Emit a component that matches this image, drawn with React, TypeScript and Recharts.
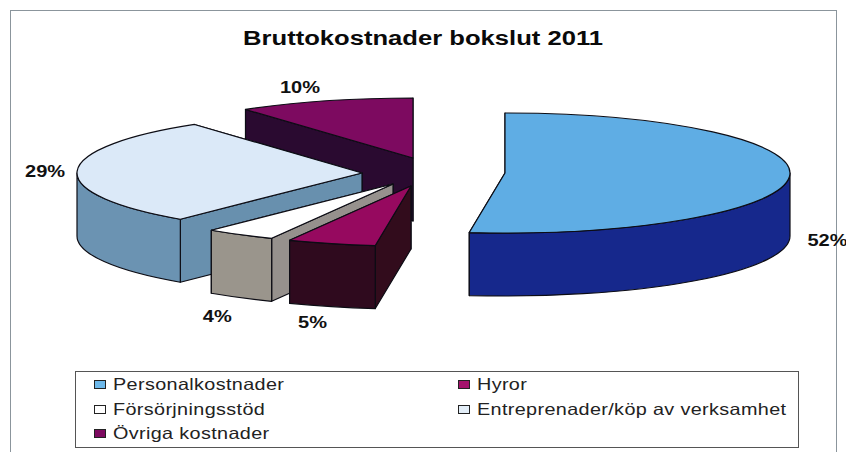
import { PieChart, Pie } from "recharts";

const categories = [
  "Personalkostnader",
  "Hyror",
  "Försörjningsstöd",
  "Entreprenader/köp av verksamhet",
  "Övriga kostnader",
];
const shares = [52, 5, 4, 29, 10];

const topColors = ["#5fade4", "#96095f", "#ffffff", "#dbe9f8", "#7d0a60"];
const wallColors = ["#16288c", "#2f0a1e", "#9a958c", "#6b93b2", "#2a0a30"];
const cutColors = ["#16288c", "#320c1c", "#96918d", "#6890ae", "#2a0a30"];
const legendColors = ["#6db8ea", "#a3126b", "#ffffff", "#e3eef8", "#7d0a60"];

// exploded slices: each one gets its own centre, painted back to front
const centres: [number, number][] = [
  [505, 173],
  [411, 186],
  [393, 184],
  [362, 173],
  [413, 158],
];
const paintOrder = [4, 0, 3, 2, 1];
const labelNudge: [number, number][] = [
  [38, 64],
  [-19, 79],
  [-23, 82],
  [-32, 1],
  [-25, -13],
];

const RX = 285;
const RY = 60;
const DEPTH = 63;
const RAD = Math.PI / 180;

const pt = (cx: number, cy: number, a: number, dy = 0) =>
  `${cx + RX * Math.cos(a * RAD)} ${cy - RY * Math.sin(a * RAD) + dy}`;

function Slice(props: any) {
  const { cx, cy, startAngle, endAngle, index } = props;
  const stroke = { stroke: "#0c0c14", strokeWidth: 1.2, strokeLinejoin: "round" as const };
  const large = startAngle - endAngle > 180 ? 1 : 0;

  const top = `M${cx} ${cy} L${pt(cx, cy, startAngle)} A${RX} ${RY} 0 ${large} 1 ${pt(cx, cy, endAngle)} Z`;

  // cut faces, the one further back first
  const cuts = [startAngle, endAngle]
    .sort((a, b) => Math.sin(b * RAD) - Math.sin(a * RAD))
    .map((a) => `M${cx} ${cy} L${pt(cx, cy, a)} L${pt(cx, cy, a, DEPTH)} L${cx} ${cy + DEPTH} Z`);

  // outer wall, only the front half of the rim shows
  const s = Math.min(startAngle, 0);
  const e = Math.max(endAngle, -180);
  const wall =
    s > e
      ? `M${pt(cx, cy, s)} A${RX} ${RY} 0 0 1 ${pt(cx, cy, e)} L${pt(cx, cy, e, DEPTH)} A${RX} ${RY} 0 0 0 ${pt(cx, cy, s, DEPTH)} Z`
      : null;

  return (
    <g>
      {cuts.map((d, i) => (
        <path key={i} d={d} fill={cutColors[index]} {...stroke} />
      ))}
      {wall && <path d={wall} fill={wallColors[index]} {...stroke} />}
      <path d={top} fill={topColors[index]} {...stroke} />
    </g>
  );
}

const legendRows = [
  [0, 1],
  [2, 3],
  [4],
];
const legendRowY = [383.5, 409, 433];

export default function App() {
  const data = categories.map((name, i) => ({ name, value: shares[i] }));

  return (
    <div style={{ position: "absolute", left: 0, top: 0, width: 846, height: 452, background: "#fff", overflow: "hidden" }}>
      <div style={{ position: "absolute", left: 10, top: 10, width: 825, height: 460, border: "1px solid #8b959c" }} />
      <PieChart
        width={846}
        height={452}
        margin={{ top: 0, right: 0, bottom: 0, left: 0 }}
        style={{ position: "absolute", left: 0, top: 0 }}
      >
        <text
          transform="translate(423,45) scale(1.22,1)"
          textAnchor="middle"
          fontFamily="Liberation Sans"
          fontWeight="bold"
          fontSize={21}
          fill="#0a0a0a"
        >
          Bruttokostnader bokslut 2011
        </text>
        {paintOrder.map((layer) => (
          <Pie
            key={layer}
            data={data}
            dataKey="value"
            nameKey="name"
            cx={centres[layer][0]}
            cy={centres[layer][1]}
            innerRadius={0}
            outerRadius={RX}
            startAngle={90}
            endAngle={-270}
            stroke="none"
            isAnimationActive={false}
            labelLine={false}
            shape={(p: any) => (p.index === layer ? <Slice {...p} /> : <g />)}
            label={(p: any) => {
              if (p.index !== layer) return <g />;
              const a = p.midAngle * RAD;
              const x = p.cx + RX * Math.cos(a) + labelNudge[layer][0];
              const y = p.cy - RY * Math.sin(a) + labelNudge[layer][1];
              return (
                <text
                  transform={`translate(${x},${y}) scale(1.25,1)`}
                  textAnchor="middle"
                  dominantBaseline="central"
                  fontFamily="Liberation Sans"
                  fontWeight="bold"
                  fontSize={16}
                  fill="#111"
                >
                  {shares[layer]}%
                </text>
              );
            }}
          />
        ))}
      </PieChart>
      <div style={{ position: "absolute", left: 75, top: 371, width: 722, height: 75, border: "1px solid #555", background: "#fff" }} />
      {legendRows.map((row, r) =>
        row.map((idx, c) => (
          <div key={idx}>
            <span
              style={{
                position: "absolute",
                left: c === 0 ? 94 : 458,
                top: legendRowY[r] - 4,
                width: 10,
                height: 7,
                border: "1px solid #222",
                background: legendColors[idx],
              }}
            />
            <span
              style={{
                position: "absolute",
                left: c === 0 ? 113 : 477,
                top: legendRowY[r] - 10,
                height: 20,
                lineHeight: "20px",
                fontFamily: "Liberation Sans",
                fontSize: 16.5,
                letterSpacing: 0.3,
                color: "#222",
                whiteSpace: "nowrap",
                transform: "scaleX(1.2)",
                transformOrigin: "left center",
              }}
            >
              {categories[idx]}
            </span>
          </div>
        )),
      )}
    </div>
  );
}
